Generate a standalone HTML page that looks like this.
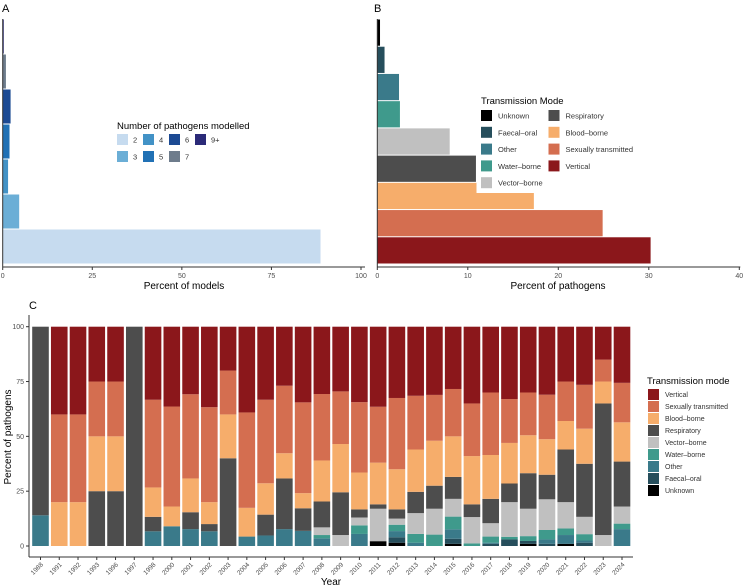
<!DOCTYPE html>
<html><head><meta charset="utf-8"><style>
body{margin:0;background:#fff;}
svg{display:block;font-family:"Liberation Sans",sans-serif;}
</style></head><body>
<svg id="fig" width="744" height="588" viewBox="0 0 744 588" xmlns="http://www.w3.org/2000/svg">
<g id="pa"></g>
<g id="pb"></g>
<g id="pc"></g>
</svg>
<script>
// Panel A data
const aCats = ["2","3","4","5","6","7","9+"];
const aVals = [88.7,4.6,1.5,1.9,2.2,0.9,0.3];
const aTicks = [0,25,50,75,100];
// Panel B data
const bCats = ["Vertical","Sexually transmitted","Blood-borne","Respiratory","Vector-borne","Water-borne","Other","Faecal-oral","Unknown"];
const bVals = [30.2,24.9,17.3,10.9,8.0,2.5,2.4,0.8,0.3];
const bTicks = [0,10,20,30,40];
// Panel C data
const cYears = ["1988","1991","1992","1993","1996","1997","1998","2000","2001","2002","2003","2004","2005","2006","2007","2008","2009","2010","2011","2012","2013","2014","2015","2016","2017","2018","2019","2020","2021","2022","2023","2024"];
const cModes = ["Unknown","Faecal-oral","Other","Water-borne","Vector-borne","Respiratory","Blood-borne","Sexually transmitted","Vertical"];
const cUnknown = [0,0,0,0,0,0,0,0,0,0,0,0,0,0,0,0,0,0,2.2,1.5,0,0,1,0,0,0,1,0,1,0,0,0];
const cFaecal  = [0,0,0,0,0,0,0,0,0,0,0,0,0,0,0,0,0,0,0,2.5,0,0,2.3,0,1,3,1.3,1,0,1.5,0,0];
const cOther   = [14,0,0,0,0,0,6.7,9,7.7,6.7,0,4.3,4.8,7.7,6.9,3.5,0,5.5,0,2.8,1.5,0,4.3,0,0.5,0,0,2,4,1,0,7.7];
const cWater   = [0,0,0,0,0,0,0,0,0,0,0,0,0,0,0,1.5,0,3.9,0,2.9,4,5.2,5.8,1.2,2.8,1.2,2.2,4.3,3,2.9,0,2.5];
const cVector  = [0,0,0,0,0,0,0,0,0,0,0,0,0,0,0,3.5,5,3.6,14.8,2.8,9.5,11.8,8.1,12,6.1,15.8,12.5,14,12,7.9,5,7.8];
const cResp    = [86,0,0,25,25,100,6.6,0,7.7,3.3,40,0,9.5,23.1,10.3,11.8,19.5,3.7,2,4.2,9.7,10.5,10,5.8,11.1,8.5,16.2,11.2,24,24.2,60,20.5];
const cBlood   = [0,20,20,25,25,0,13.4,9,15.4,10,20,13.1,14.3,11.5,6.9,18.7,22,16.8,19,18.3,19.3,20.5,18.5,22,20,18.5,17.3,16.2,13,16,10,17.9];
const cSex     = [0,40,40,25,25,0,40,45.6,38.4,43.3,20,43.5,38.1,30.8,41.4,30.3,24,32.1,25.5,32.5,24.5,20.9,21.6,24,28.5,20,19.5,20.3,18,20,10,18];
const cVert    = [0,40,40,25,25,0,33.3,36.4,30.8,36.7,20,39.1,33.3,26.9,34.5,30.7,29.5,34.4,36.5,32.5,31.5,31.1,28.4,35,30,33,30,31,25,26.5,15,25.6];
const cTicks = [0,25,50,75,100];

const NS="http://www.w3.org/2000/svg";
function mk(parent,tag,attrs,text){const e=document.createElementNS(NS,tag);for(const k in attrs)e.setAttribute(k,attrs[k]);if(text!==undefined)e.textContent=text;parent.appendChild(e);return e;}

const colA={"2":"#c6dbef","3":"#6baed6","4":"#4292c6","5":"#2171b5","6":"#1c4a93","7":"#6e7c8c","9+":"#2b2a78"};
const colM={"Unknown":"#000000","Faecal-oral":"#264e5c","Other":"#3a7a8a","Water-borne":"#3f9a8c","Vector-borne":"#c0c0c0","Respiratory":"#4d4d4d","Blood-borne":"#f6ad6b","Sexually transmitted":"#d46e50","Vertical":"#8b171b"};

// ---------- Panel A ----------
(function(){
const g=document.getElementById('pa');
const x0=2.7,x1=361,yTop=19,yBot=264;
const sx=v=>x0+(x1-x0)*v/100;
const band=(yBot-yTop)/aCats.length;
let t=mk(g,'text',{x:2,y:12,'font-size':11},'A');

aCats.forEach((c,i)=>{
  const y=yBot-(i+1)*band;
  const r=mk(g,'rect',{x:x0,y:y+0.5,width:Math.max(0,sx(aVals[i])-x0),height:band-1,fill:colA[c]});
  
  
});
mk(g,'line',{x1:x0,y1:yTop,x2:x0,y2:267,stroke:'#333','stroke-width':1});
const ax=mk(g,'line',{x1:x0,y1:267,x2:x1+4,y2:267,stroke:'#333','stroke-width':1});

aTicks.forEach(v=>{
  mk(g,'line',{x1:sx(v),y1:267,x2:sx(v),y2:270,stroke:'#333'});
  const tl=mk(g,'text',{x:sx(v),y:278,'font-size':7,fill:'#4d4d4d','text-anchor':'middle'},v);
  
});
const xt=mk(g,'text',{x:184,y:289,'font-size':10,'text-anchor':'middle'},'Percent of models');

// legend
const lg=mk(g,'g',{});

mk(lg,'text',{x:117,y:129,'font-size':9.5},'Number of pathogens modelled');
const lay=[["2",0,0],["4",1,0],["6",2,0],["9+",3,0],["3",0,1],["5",1,1],["7",2,1]];
lay.forEach(([c,ci,ri])=>{
  const x=117+ci*26,y=134+ri*17;
  const e=mk(lg,'g',{});
  
  
  mk(e,'rect',{x:x,y:y,width:11,height:11,fill:colA[c]});
  mk(e,'text',{x:x+16,y:y+8.5,'font-size':7.5,fill:'#333'},c);
});
})();

// ---------- Panel B ----------
(function(){
const g=document.getElementById('pb');
const x0=377.3,x1=739.3,yTop=19,yBot=264;
const sx=v=>x0+(x1-x0)*v/40;
const band=(yBot-yTop)/bCats.length;
let t=mk(g,'text',{x:374,y:12,'font-size':11},'B');

bCats.forEach((c,i)=>{
  const y=yBot-(i+1)*band;
  const r=mk(g,'rect',{x:x0,y:y+0.5,width:Math.max(0,sx(bVals[i])-x0),height:band-1,fill:colM[c]});
  
  
});
mk(g,'line',{x1:x0,y1:yTop,x2:x0,y2:267,stroke:'#333'});
const ax=mk(g,'line',{x1:x0,y1:267,x2:x1+1,y2:267,stroke:'#333'});

bTicks.forEach(v=>{
  mk(g,'line',{x1:sx(v),y1:267,x2:sx(v),y2:270,stroke:'#333'});
  const tl=mk(g,'text',{x:sx(v),y:278,'font-size':7,fill:'#4d4d4d','text-anchor':'middle'},v);
  
});
const xt=mk(g,'text',{x:558,y:289,'font-size':10,'text-anchor':'middle'},'Percent of pathogens');

const lg=mk(g,'g',{});

mk(lg,'rect',{x:476.5,y:88,width:160,height:105,fill:'#fff'});
mk(lg,'text',{x:481,y:104,'font-size':9.5},'Transmission Mode');
const items=[["Unknown",0,0],["Faecal-oral",0,1],["Other",0,2],["Water-borne",0,3],["Vector-borne",0,4],["Respiratory",1,0],["Blood-borne",1,1],["Sexually transmitted",1,2],["Vertical",1,3]];
items.forEach(([c,ci,ri])=>{
  const x=481+ci*67.5,y=110+ri*16.8;
  const e=mk(lg,'g',{});
  
  
  mk(e,'rect',{x:x,y:y,width:11,height:11,fill:colM[c]});
  mk(e,'text',{x:x+17,y:y+8.5,'font-size':7.5,fill:'#333'},c.replace('-','\u2013'));
});
})();

// ---------- Panel C ----------
(function(){
const g=document.getElementById('pc');
const xL=29,xR=633,y0=546,y100=326.7,axY=557;
const sy=v=>y0-(y0-y100)*v/100;
const c0=40.5,step=(622-40.5)/(cYears.length-1),bw=16.6;
const sx=i=>c0+i*step;
let t=mk(g,'text',{x:29,y:309,'font-size':11},'C');

const series=[cUnknown,cFaecal,cOther,cWater,cVector,cResp,cBlood,cSex,cVert];
cYears.forEach((yr,i)=>{
  let cum=0;
  const total=series.reduce((s,a)=>s+a[i],0)||1;
  series.forEach((arr,k)=>{
    const v=arr[i]/total*100;
    if(v<=0)return;
    const r=mk(g,'rect',{x:sx(i)-bw/2,y:sy(cum+v),width:bw,height:sy(cum)-sy(cum+v),fill:colM[cModes[k]]});
    
    
    cum+=v;
  });
  mk(g,'line',{x1:sx(i),y1:axY,x2:sx(i),y2:axY+3,stroke:'#333'});
  const tl=mk(g,'text',{x:sx(i)+3,y:axY+8,'font-size':6.5,fill:'#4d4d4d','text-anchor':'end',transform:`rotate(-45 ${sx(i)+3} ${axY+8})`},yr);
  
});
mk(g,'line',{x1:xL,y1:315,x2:xL,y2:axY,stroke:'#333'});
const ax=mk(g,'line',{x1:xL,y1:axY,x2:xR,y2:axY,stroke:'#333'});

cTicks.forEach(v=>{
  mk(g,'line',{x1:xL-3,y1:sy(v),x2:xL,y2:sy(v),stroke:'#333'});
  const tl=mk(g,'text',{x:xL-5,y:sy(v)+2.5,'font-size':7,fill:'#4d4d4d','text-anchor':'end'},v);
  
});
const yt=mk(g,'text',{x:11,y:437,'font-size':10,'text-anchor':'middle',transform:'rotate(-90 11 437)'},'Percent of pathogens');

const xt=mk(g,'text',{x:331,y:585,'font-size':10,'text-anchor':'middle'},'Year');

const lg=mk(g,'g',{});

mk(lg,'text',{x:647,y:384,'font-size':9.5},'Transmission mode');
["Vertical","Sexually transmitted","Blood-borne","Respiratory","Vector-borne","Water-borne","Other","Faecal-oral","Unknown"].forEach((c,i)=>{
  const y=389+i*12;
  const e=mk(lg,'g',{});
  
  
  mk(e,'rect',{x:648,y:y,width:11,height:11,fill:colM[c]});
  mk(e,'text',{x:665,y:y+8,'font-size':7,fill:'#333'},c.replace('-','\u2013'));
});
})();
</script>
</body></html>
